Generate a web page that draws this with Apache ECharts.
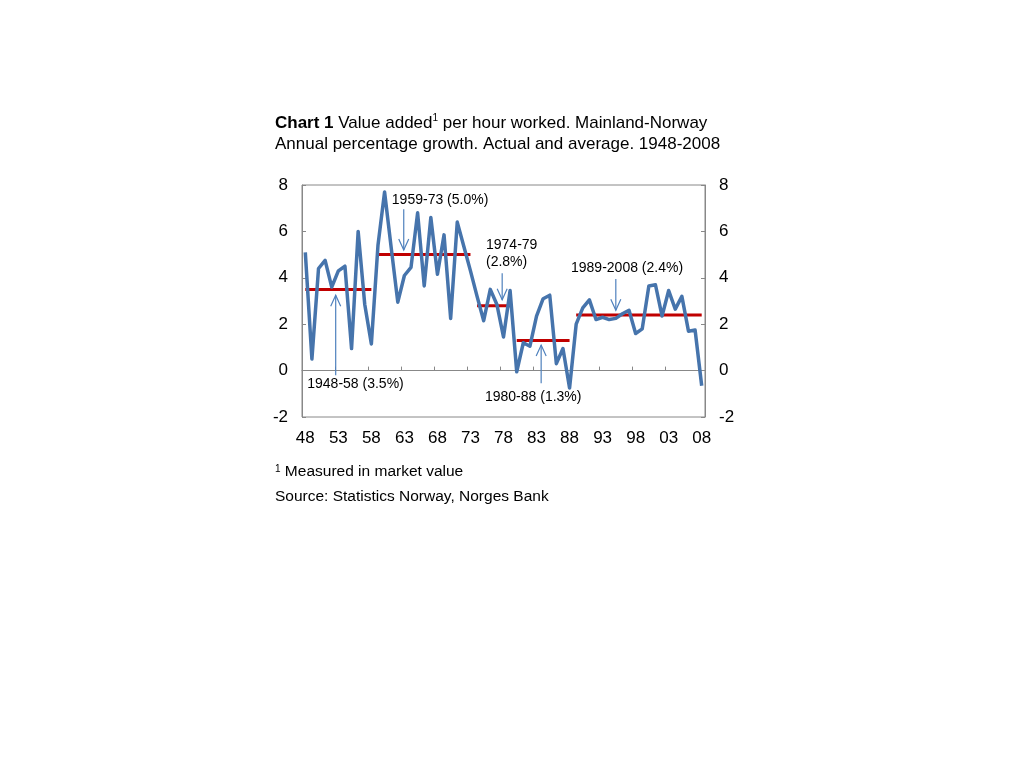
<!DOCTYPE html>
<html>
<head>
<meta charset="utf-8">
<script src="https://cdn.jsdelivr.net/npm/echarts@6/dist/echarts.min.js"></script>
<style>
html,body{margin:0;padding:0;background:#fff;}
#c{width:1024px;height:768px;}
</style>
</head>
<body>
<div id="c"></div>
<script>
// ---- data ----
const years = [];
for (let y = 1948; y <= 2008; y++) years.push(y);
const categories = years.map(y => String(y % 100).padStart(2, '0'));
const growth = [
  5.1, 0.5, 4.4, 4.75, 3.6, 4.3, 4.5, 0.95, 6.0, 2.85, 1.15,   // 1948-58
  5.4, 7.7, 5.3, 2.95, 4.1, 4.45, 6.8, 3.65, 6.6, 4.15,         // 1959-68
  5.85, 2.25, 6.4, 5.35, 4.3,                                    // 1969-73
  3.2, 2.15, 3.5, 2.85, 1.45, 3.45,                              // 1974-79
  -0.05, 1.2, 1.05, 2.35, 3.1, 3.25, 0.3, 0.95, -0.75,           // 1980-88
  2.0, 2.7, 3.05, 2.2, 2.3, 2.2, 2.25, 2.45, 2.6, 1.6,           // 1989-98
  1.8, 3.65, 3.7, 2.35, 3.45, 2.65, 3.2, 1.7, 1.75, -0.65        // 1999-2008
];
const avgStart = [1948, 1959, 1974, 1980, 1989];
const avgEnd   = [1958, 1973, 1979, 1988, 2008];
const avgValue = [3.5, 5.0, 2.8, 1.3, 2.4];
const avgLabels = ['1948-58 (3.5%)', '1959-73 (5.0%)', '1974-79\n(2.8%)', '1980-88 (1.3%)', '1989-2008 (2.4%)'];

// annotation placement (data coordinates)
const arrowX    = [1952.6, 1962.9, 1977.8, 1983.7, 1995.0];
const arrowFrom = [-0.2, 6.95, 4.2, -0.55, 3.95];
const arrowTo   = [3.25, 5.2, 3.05, 1.1, 2.6];
const labelX    = [1955.6, 1968.4, 1975.35, 1982.5, 1996.7];
const labelY    = [-0.6, 7.35, 5.05, -1.15, 4.4];
const labelAlign = ['center', 'center', 'left', 'center', 'center'];

const FONT = '"Liberation Sans", Arial, sans-serif';
const BLUE = '#4674AC';
const RED = '#C00000';
const ARROW = '#4F81BD';

const avgSeries = avgValue.map((v, i) => ({
  type: 'line',
  name: 'avg' + i,
  xAxisIndex: 0,
  yAxisIndex: 0,
  data: years.map(y => (y >= avgStart[i] && y <= avgEnd[i]) ? v : null),
  showSymbol: false,
  symbol: 'none',
  lineStyle: { color: RED, width: 3 },
  silent: true,
  z: 3
}));

const annotData = arrowX.map((x, i) => [x, arrowFrom[i], arrowTo[i], labelX[i], labelY[i], i]);

const chart = echarts.init(document.getElementById('c'), null, { renderer: 'canvas' });
chart.setOption({
  backgroundColor: '#fff',
  animation: false,
  title: {
    left: 275, top: 113, padding: 0,
    text: '{b|Chart 1} Value added{sup|1} per hour worked. Mainland-Norway\nAnnual percentage growth. Actual and average. 1948-2008',
    textStyle: {
      fontFamily: FONT, fontSize: 17, fontWeight: 'normal', color: '#000', lineHeight: 21,
      rich: {
        b: { fontFamily: FONT, fontSize: 17, fontWeight: 'bold', color: '#000', lineHeight: 21 },
        sup: { fontFamily: FONT, fontSize: 10, color: '#000', verticalAlign: 'top', lineHeight: 21, padding: [0, 0, 6, 0] }
      }
    }
  },
  graphic: [
    {
      type: 'text', left: 275, top: 464,
      style: {
        text: '{sup|1} Measured in market value',
        font: '15.5px ' + FONT, fill: '#000',
        rich: { sup: { fontSize: 10, fontFamily: FONT, padding: [0, 0, 6, 0], fill: '#000' } }
      }
    },
    {
      type: 'text', left: 275, top: 489,
      style: { text: 'Source: Statistics Norway, Norges Bank', font: '15.5px ' + FONT, fill: '#000' }
    }
  ],
  grid: {
    left: 302, top: 185, width: 403, height: 232,
    show: true, borderColor: '#888', borderWidth: 1, backgroundColor: 'transparent',
    containLabel: false
  },
  xAxis: [
    {
      type: 'category', data: categories, boundaryGap: true, position: 'bottom',
      axisLine: { show: true, lineStyle: { color: '#888', width: 1 } },
      axisTick: { show: true, inside: true, interval: 4, length: 4, lineStyle: { color: '#888' } },
      axisLabel: { interval: 4, fontFamily: FONT, fontSize: 17, color: '#000', margin: 13 },
      splitLine: { show: false }
    },
    {
      type: 'value', min: 1947.5, max: 2008.5, show: false, gridIndex: 0
    }
  ],
  yAxis: [
    {
      type: 'value', min: -2, max: 8, interval: 2, position: 'left',
      axisLine: { show: true, lineStyle: { color: '#888' } },
      axisTick: { show: true, inside: true, length: 4, lineStyle: { color: '#888' } },
      axisLabel: { fontFamily: FONT, fontSize: 17, color: '#000', margin: 14 },
      splitLine: { show: false }
    },
    {
      type: 'value', min: -2, max: 8, interval: 2, position: 'right',
      axisLine: { show: true, lineStyle: { color: '#888' } },
      axisTick: { show: true, inside: true, length: 4, lineStyle: { color: '#888' } },
      axisLabel: { fontFamily: FONT, fontSize: 17, color: '#000', margin: 14 },
      splitLine: { show: false }
    }
  ],
  series: [
    {
      type: 'line', name: 'growth', xAxisIndex: 0, yAxisIndex: 0,
      data: growth, showSymbol: false, symbol: 'none',
      lineStyle: { color: BLUE, width: 3.5, join: 'round' },
      z: 4,
      markLine: {
        silent: true, symbol: 'none', label: { show: false },
        lineStyle: { color: '#888', width: 1, type: 'solid' },
        data: [{ yAxis: 0 }],
        z: 1
      }
    },
    ...avgSeries,
    {
      type: 'custom', name: 'annotations', xAxisIndex: 1, yAxisIndex: 0,
      silent: true, z: 5,
      data: annotData,
      renderItem: function (params, api) {
        const x = api.value(0), y1 = api.value(1), y2 = api.value(2);
        const lx = api.value(3), ly = api.value(4), idx = api.value(5);
        const p1 = api.coord([x, y1]);
        const p2 = api.coord([x, y2]);
        const dir = p2[1] > p1[1] ? 1 : -1;
        const hl = 11, hw = 5;
        const lp = api.coord([lx, ly]);
        return {
          type: 'group',
          children: [
            { type: 'line', shape: { x1: p1[0], y1: p1[1], x2: p2[0], y2: p2[1] },
              style: { stroke: ARROW, lineWidth: 1.2 } },
            { type: 'polyline', shape: { points: [[p2[0] - hw, p2[1] - dir * hl], [p2[0], p2[1]], [p2[0] + hw, p2[1] - dir * hl]] },
              style: { stroke: ARROW, lineWidth: 1.2, fill: null } },
            { type: 'text', x: lp[0], y: lp[1],
              style: { text: avgLabels[idx], font: '14px ' + FONT, fill: '#000',
                       align: labelAlign[idx], verticalAlign: 'middle', lineHeight: 17 } }
          ]
        };
      }
    }
  ]
});
</script>
</body>
</html>
